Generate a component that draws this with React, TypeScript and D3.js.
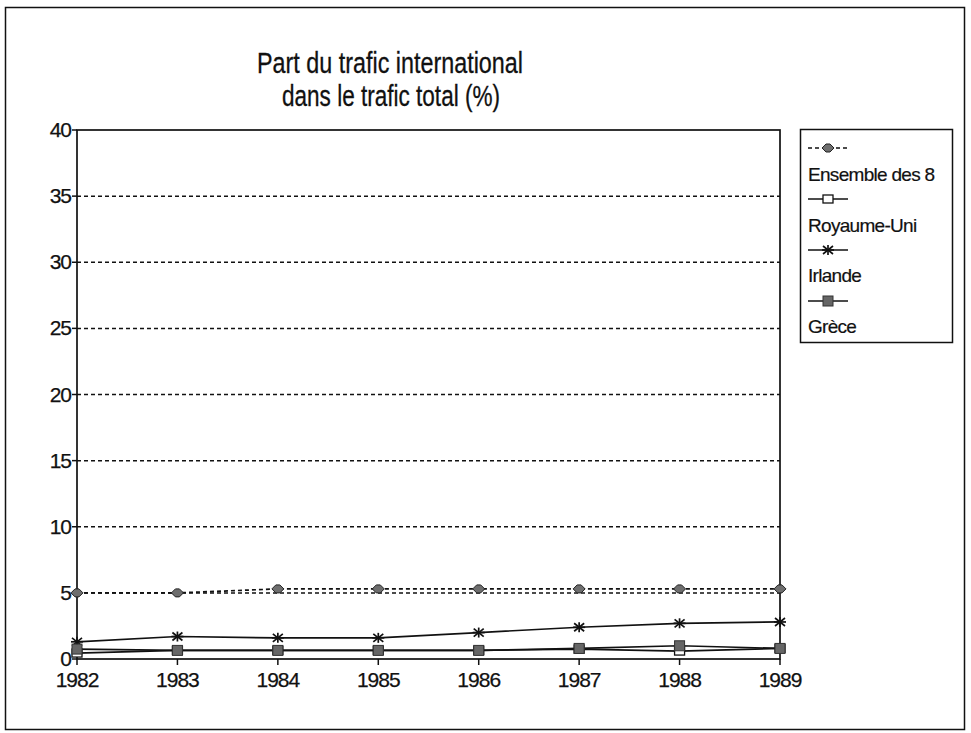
import React from "react";
import * as d3 from "d3";

const years = [1982, 1983, 1984, 1985, 1986, 1987, 1988, 1989];
const ensemble = [5.0, 5.0, 5.3, 5.3, 5.3, 5.3, 5.3, 5.3];
const royaumeUni = [0.45, 0.65, 0.65, 0.65, 0.65, 0.75, 0.6, 0.8];
const irlande = [1.3, 1.7, 1.6, 1.6, 2.0, 2.4, 2.7, 2.8];
const grece = [0.75, 0.65, 0.65, 0.65, 0.65, 0.8, 1.0, 0.8];
const yTicks = [0, 5, 10, 15, 20, 25, 30, 35, 40];
const seriesNames = ["Ensemble des 8", "Royaume-Uni", "Irlande", "Grèce"];
const titleLines = ["Part du trafic international", "dans le trafic total (%)"];

const W = 971;
const H = 733;
const FONT = "'Liberation Sans', Arial, Helvetica, sans-serif";

type Kind = "diamond" | "openSquare" | "star" | "filledSquare";

function Marker({ kind, x, y }: { kind: Kind; x: number; y: number }) {
  if (kind === "diamond") {
    return (
      <path
        d={`M${x - 6},${y} L${x - 2},${y - 4} L${x + 2},${y - 4} L${x + 6},${y} L${x + 2},${y + 4} L${x - 2},${y + 4} Z`}
        fill="#6e6e6e"
        stroke="#222"
        strokeWidth={1}
      />
    );
  }
  if (kind === "openSquare") {
    return <rect x={x - 5} y={y - 4} width={10} height={8} fill="#fff" stroke="#111" strokeWidth={1.3} />;
  }
  if (kind === "filledSquare") {
    return <rect x={x - 5} y={y - 5} width={10} height={10} fill="#666" stroke="#333" strokeWidth={1} />;
  }
  return (
    <g stroke="#111" strokeWidth={1.7}>
      <line x1={x - 5} y1={y - 4} x2={x + 5} y2={y + 4} />
      <line x1={x - 5} y1={y + 4} x2={x + 5} y2={y - 4} />
      <line x1={x} y1={y - 5} x2={x} y2={y + 5} />
      <line x1={x - 6} y1={y} x2={x + 6} y2={y} />
    </g>
  );
}

export default function App() {
  const x = d3.scaleLinear().domain([1982, 1989]).range([77, 780]);
  const y = d3.scaleLinear().domain([0, 40]).range([659, 130]);

  const series: { name: string; values: number[]; kind: Kind; dash?: string }[] = [
    { name: seriesNames[0], values: ensemble, kind: "diamond", dash: "4,3" },
    { name: seriesNames[1], values: royaumeUni, kind: "openSquare" },
    { name: seriesNames[2], values: irlande, kind: "star" },
    { name: seriesNames[3], values: grece, kind: "filledSquare" },
  ];

  const line = d3
    .line<number>()
    .x((_, i) => x(years[i]))
    .y((v) => y(v));

  const [x0, x1] = x.range();
  const [yb, yt] = y.range();

  return (
    <svg
      width={W}
      height={H}
      style={{ position: "absolute", left: 0, top: 0, display: "block", background: "#fff" }}
      fontFamily={FONT}
    >
      <rect x={0} y={0} width={W} height={H} fill="#fff" />
      <rect x={5.5} y={7.5} width={959} height={722} fill="none" stroke="#111" strokeWidth={1.5} />

      {/* title */}
      <g fill="#111" stroke="#111" strokeWidth={0.3}>
        <text x={390} y={73} textAnchor="middle" fontSize={29} textLength={266} lengthAdjust="spacingAndGlyphs">
          {titleLines[0]}
        </text>
        <text x={391} y={106} textAnchor="middle" fontSize={29} textLength={218} lengthAdjust="spacingAndGlyphs">
          {titleLines[1]}
        </text>
      </g>

      {/* gridlines */}
      {yTicks
        .filter((t) => t > 0 && t < 40)
        .map((t) => (
          <line key={"g" + t} x1={x0} x2={x1} y1={y(t)} y2={y(t)} stroke="#111" strokeWidth={1.5} strokeDasharray="4,3" />
        ))}

      {/* plot frame */}
      <rect x={x0} y={yt} width={x1 - x0} height={yb - yt} fill="none" stroke="#111" strokeWidth={1.7} />

      {/* y ticks */}
      {yTicks.map((t) => (
        <g key={"y" + t}>
          <line x1={x0 - 5} x2={x0} y1={y(t)} y2={y(t)} stroke="#111" strokeWidth={1.5} />
          <text x={x0 - 6} y={y(t) + 7} textAnchor="end" fontSize={21} fill="#111" stroke="#111" strokeWidth={0.25} letterSpacing={-1}>
            {t}
          </text>
        </g>
      ))}

      {/* x ticks */}
      {years.map((yr) => (
        <g key={"x" + yr}>
          <line x1={x(yr)} x2={x(yr)} y1={yb} y2={yb + 6} stroke="#111" strokeWidth={1.5} />
          <text x={x(yr)} y={yb + 28} textAnchor="middle" fontSize={21} fill="#111" stroke="#111" strokeWidth={0.25} letterSpacing={-1}>
            {yr}
          </text>
        </g>
      ))}

      {/* series lines */}
      {series.map((s) => (
        <path
          key={"l" + s.name}
          d={line(s.values) || ""}
          fill="none"
          stroke="#111"
          strokeWidth={1.7}
          strokeDasharray={s.dash}
        />
      ))}
      {series.map((s) =>
        s.values.map((v, i) => <Marker key={s.name + i} kind={s.kind} x={x(years[i])} y={y(v)} />)
      )}

      {/* legend */}
      <rect x={800.5} y={129.5} width={152} height={213} fill="#fff" stroke="#111" strokeWidth={1.5} />
      {series.map((s, i) => {
        const sy = 148 + i * 51;
        return (
          <g key={"leg" + s.name}>
            <line x1={808} x2={848} y1={sy} y2={sy} stroke="#111" strokeWidth={1.4} strokeDasharray={s.dash} />
            <Marker kind={s.kind} x={828} y={sy} />
            <text x={808} y={181 + i * 50.5} fontSize={19} fill="#111" stroke="#111" strokeWidth={0.2} textLength={s.name.length > 10 ? undefined : undefined} letterSpacing={-0.7}>
              {s.name}
            </text>
          </g>
        );
      })}
    </svg>
  );
}
